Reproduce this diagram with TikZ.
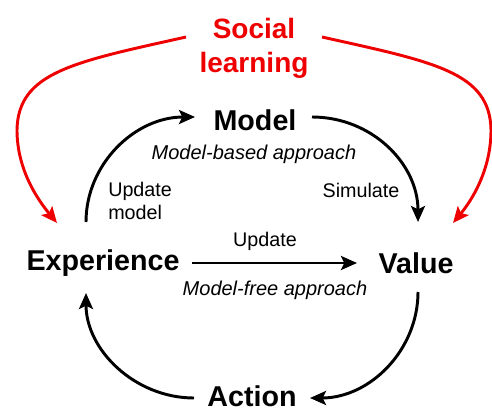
\documentclass[tikz,border=0pt]{standalone}
\usepackage{fontspec}
\setmainfont{Liberation Sans}
\usetikzlibrary{arrows.meta,calc}
\definecolor{sred}{RGB}{238,0,0}
\begin{document}
\begin{tikzpicture}[x=0.75pt,y=-0.75pt,
  big/.style={font=\fontsize{21.5}{25}\selectfont\bfseries, inner sep=0pt},
  small/.style={font=\fontsize{14.8}{17.5}\selectfont, inner sep=0pt},
  note/.style={font=\fontsize{15}{17.5}\selectfont\itshape, inner sep=0pt},
  link/.style={line width=2.2pt, -{Stealth[length=12pt,width=10.5pt,inset=2.5pt]}},
  slink/.style={link, draw=sred}]
\useasboundingbox (0,0) rectangle (492,410);

% main quantities
\node[big, text=sred, align=center, font=\fontsize{21}{25.5}\selectfont\bfseries] (soc) at (254,48) {Social\\learning};
\node[big] (model) at (255,120) {Model};
\node[big] (exp) at (103,263) {Experience};
\node[big] (val) at (416,263) {Value};
\node[big] (act) at (252,396) {Action};

% labels
\node[note] (mba) at (254,154) {Model-based approach};
\node[note] (mfa) at (275,290) {Model-free approach};
\node[small] (sim) at (361,190) {Simulate};
\node[small, align=left, anchor=west] (upm) at (108,201) {Update\\model};
\node[small] (upd) at (265,241) {Update};

% learning loop
\draw[link] ($(exp)+(-17,-41)$) .. controls ($(exp)+(-17,-99)$) and ($(model)+(-120,-3)$) .. ($(model)+(-60,-3)$);
\draw[link] ($(model)+(57,-3)$) .. controls ($(model)+(117,-3)$) and ($(val)+(2,-99)$) .. ($(val)+(2,-41)$);
\draw[link] ($(exp)+(89,0)$) -- ($(val)+(-59,0)$);
\draw[link] ($(val)+(2,29)$) .. controls ($(val)+(2,87)$) and ($(act)+(118,2)$) .. ($(act)+(58,2)$);
\draw[link] ($(act)+(-58,2)$) .. controls ($(act)+(-117,2)$) and ($(exp)+(-17,87)$) .. ($(exp)+(-17,30)$);

% social learning feeds both ends
\draw[slink] ($(soc)+(-68,-11)$) .. controls ($(soc)+(-180,14)$) and ($(soc)+(-236,24)$) .. ($(soc)+(-237,82)$)
  .. controls ($(soc)+(-237,122)$) and ($(exp)+(-65,-63)$) .. ($(exp)+(-46,-40)$);
\draw[slink] ($(soc)+(68,-11)$) .. controls ($(soc)+(180,14)$) and ($(soc)+(236,24)$) .. ($(soc)+(237,82)$)
  .. controls ($(soc)+(237,122)$) and ($(val)+(56,-63)$) .. ($(val)+(37,-40)$);
\end{tikzpicture}
\end{document}
